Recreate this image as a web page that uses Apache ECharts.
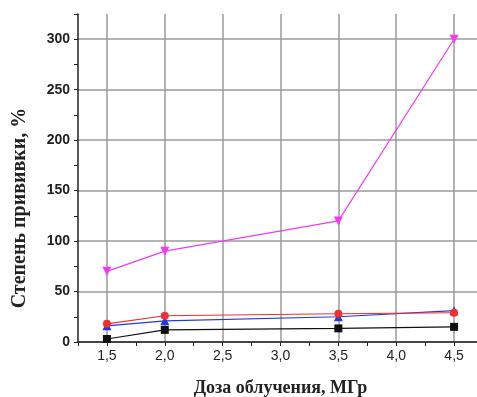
<!DOCTYPE html>
<html>
<head>
<meta charset="utf-8">
<script src="https://cdn.jsdelivr.net/npm/echarts@6/dist/echarts.min.js"></script>
<style>
  html, body { margin: 0; padding: 0; background: #fff; }
  #chart { width: 477px; height: 397px; }
</style>
</head>
<body>
<div id="chart"></div>
<script>
// доза облучения, МГр
const doses = [1.5, 2.0, 3.5, 4.5];
// степень прививки, % (по кривым)
const pinkValues = [70, 90, 120, 300];
const redValues = [18, 26, 28, 29];
const blueValues = [16, 21, 25, 31];
const blackValues = [3, 12, 13.5, 15];

const chart = echarts.init(document.getElementById('chart'));

function comma(v) {
    return v.toFixed(1).replace('.', ',');
}

// одна кривая: линия + маркеры
function makeSeries(values, color, symbol, size, rotate) {
    return {
        type: 'line',
        data: doses.map((d, i) => [d, values[i]]),
        symbol: symbol,
        symbolSize: size,
        symbolRotate: rotate || 0,
        itemStyle: { color: color },
        lineStyle: { color: color, width: 1.2 },
        animation: false
    };
}

const option = {
    backgroundColor: '#fff',
    // outerBoundsMode: none — иначе v6 сжимает сетку под подписи
    grid: { left: 78, right: -6, top: 14, bottom: 55, outerBoundsMode: 'none' },
    xAxis: {
        type: 'value',
        min: 1.25,
        max: 4.75,
        interval: 0.25,
        name: 'Доза облучения, МГр',
        nameLocation: 'middle',
        nameGap: 37,
        nameTextStyle: {
            fontFamily: 'Liberation Serif', fontWeight: 'bold', fontSize: 18, color: '#222'
        },
        axisLine: { lineStyle: { color: '#222', width: 1.5 } },
        axisTick: { length: 4, lineStyle: { color: '#222' } },
        axisLabel: {
            // подписи только на 0,5
            formatter: v => (Math.abs(v * 2 - Math.round(v * 2)) < 1e-6 ? comma(v) : ''),
            fontFamily: 'Liberation Sans', fontSize: 14, color: '#222', margin: 7,
            showMinLabel: true, showMaxLabel: true
        },
        splitLine: { show: true, lineStyle: { color: ['transparent', '#9a9a9a'], width: 1.5 } }
    },
    yAxis: {
        type: 'value',
        min: 0,
        max: 325,
        interval: 25,
        name: 'Степень прививки, %',
        nameLocation: 'middle',
        nameGap: 48,
        nameTextStyle: {
            fontFamily: 'Liberation Serif', fontWeight: 'bold', fontSize: 20, color: '#222',
            padding: [0, 60, 0, 0]
        },
        axisLine: { show: true, lineStyle: { color: '#222', width: 1.5 } },
        axisTick: { show: true, length: 4, lineStyle: { color: '#222' } },
        axisLabel: {
            formatter: v => (v % 50 === 0 && v <= 300 ? String(v) : ''),
            fontFamily: 'Liberation Sans', fontWeight: 'bold', fontSize: 14, color: '#222', margin: 8
        },
        splitLine: { show: true, lineStyle: { color: ['#9a9a9a', 'transparent'], width: 1.5 } }
    },
    series: [
        makeSeries(blackValues, '#111', 'rect', 8),
        makeSeries(blueValues, '#1f3be0', 'triangle', 9),
        makeSeries(redValues, '#ee3030', 'circle', 8),
        makeSeries(pinkValues, '#f03cf0', 'triangle', 9, 180)
    ]
};

chart.setOption(option);
</script>
</body>
</html>
